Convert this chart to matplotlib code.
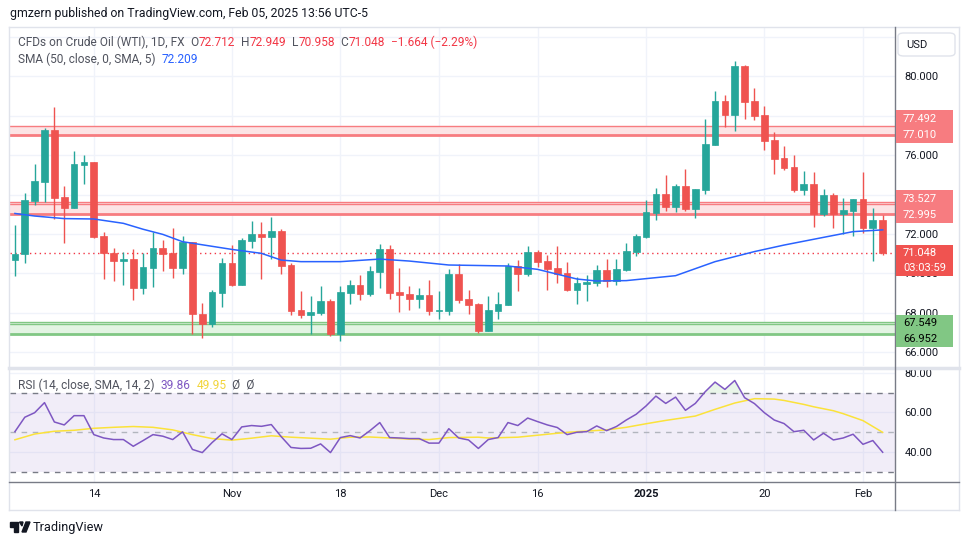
import matplotlib
matplotlib.use("Agg")
import matplotlib.pyplot as plt
from matplotlib.lines import Line2D
from matplotlib.patches import Rectangle, FancyBboxPatch, Polygon
from matplotlib.offsetbox import TextArea, HPacker, AnnotationBbox

plt.rcParams['font.family'] = ['Roboto', 'DejaVu Sans']

# daily candles, Oct 2 2024 .. Feb 5 2025 (bar index 0..88)
opens = [70.70, 70.97, 73.69, 74.65, 77.26, 73.87, 73.33, 75.51, 75.65, 71.90,
         71.02, 70.65, 70.73, 69.28, 70.30, 71.29, 71.02, 70.30, 71.59, 67.97,
         67.46, 69.03, 70.53, 69.42, 71.66, 72.00, 71.86, 72.15, 70.43, 68.15,
         67.91, 68.02, 68.61, 66.95, 69.01, 69.42, 68.98, 70.09, 71.24, 69.06,
         68.96, 68.72, 68.91, 68.12, 68.12, 69.97, 68.71, 68.45, 67.10, 68.12,
         68.42, 70.38, 69.97, 71.09, 70.63, 70.28, 70.02, 69.16, 69.47, 69.52,
         70.18, 69.62, 70.18, 71.09, 71.85, 73.06, 74.03, 73.38, 74.43, 73.27,
         74.23, 76.51, 78.73, 78.03, 80.51, 78.73, 78.03, 76.76, 75.85, 75.39,
         74.23, 74.53, 73.01, 73.97, 73.01, 73.16, 73.77, 72.30, 72.712]
highs = [72.45, 74.06, 75.54, 77.35, 78.45, 74.43, 76.20, 76.00, 75.65, 72.10,
         71.29, 71.09, 71.24, 71.02, 72.08, 71.70, 72.30, 71.90, 71.59, 68.51,
         69.16, 70.78, 71.44, 71.78, 72.66, 72.61, 72.86, 72.25, 70.53, 69.11,
         68.86, 69.37, 68.71, 69.37, 69.67, 69.92, 70.38, 71.49, 71.44, 70.28,
         69.37, 69.26, 69.67, 69.11, 70.23, 70.48, 69.16, 68.51, 68.86, 69.06,
         70.53, 70.68, 71.39, 71.19, 70.94, 71.39, 70.58, 69.82, 69.92, 70.43,
         70.73, 70.73, 71.54, 72.00, 73.72, 74.33, 74.99, 74.53, 75.29, 74.28,
         77.82, 79.24, 79.04, 80.76, 80.56, 79.39, 78.48, 77.16, 76.45, 76.00,
         75.19, 75.14, 74.28, 74.08, 73.82, 73.77, 75.14, 73.32, 72.949]
lows = [69.89, 70.55, 73.48, 73.64, 72.74, 71.56, 73.33, 74.53, 71.81, 69.72,
        69.64, 69.42, 68.66, 68.98, 69.33, 70.13, 69.79, 69.99, 66.95, 66.75,
        67.31, 68.32, 69.37, 69.42, 71.31, 69.72, 70.72, 69.97, 67.90, 67.76,
        66.95, 67.90, 66.85, 66.60, 68.47, 68.67, 68.88, 69.28, 68.72, 68.07,
        68.17, 68.27, 67.90, 67.71, 67.91, 68.52, 67.97, 67.00, 67.10, 67.71,
        68.42, 69.13, 69.87, 70.33, 69.16, 69.52, 69.11, 68.47, 68.61, 69.37,
        69.32, 69.42, 70.13, 70.89, 71.80, 72.71, 73.16, 73.11, 73.16, 72.81,
        74.03, 76.51, 77.42, 77.21, 77.82, 77.77, 76.25, 75.04, 75.24, 74.13,
        73.97, 72.35, 72.91, 72.30, 72.00, 71.90, 72.05, 70.63, 70.958]
closes = [70.99, 73.72, 74.68, 77.26, 73.84, 73.33, 75.54, 75.65, 71.86, 71.02,
          70.65, 70.73, 69.28, 70.33, 71.29, 71.00, 70.30, 71.59, 67.97, 67.46,
          69.06, 70.53, 69.42, 71.70, 72.00, 71.86, 72.15, 70.40, 68.12, 67.90,
          68.05, 68.61, 66.95, 69.06, 69.42, 68.98, 70.13, 71.24, 69.03, 68.91,
          68.72, 68.91, 68.12, 68.17, 69.97, 68.67, 68.42, 67.10, 68.15, 68.45,
          70.38, 69.97, 71.09, 70.58, 70.23, 69.97, 69.16, 69.52, 69.57, 70.18,
          69.62, 70.23, 71.14, 71.90, 73.11, 74.03, 73.38, 74.43, 73.27, 74.28,
          76.56, 78.73, 78.03, 80.51, 78.68, 77.97, 76.71, 75.80, 75.34, 74.23,
          74.53, 73.01, 73.97, 73.01, 73.21, 73.77, 72.30, 72.71, 71.048]

# SMA(50) read at selected bars
sma_idx = [0, 2, 5, 8, 11, 13, 15, 17, 22, 25, 27, 29, 33, 37, 40, 44, 50, 53,
           57, 59, 62, 67, 71, 75, 78, 82, 85, 88]
sma_val = [73.04, 72.91, 72.78, 72.76, 72.54, 72.24, 71.98, 71.61, 71.22, 71.02,
           70.68, 70.60, 70.60, 70.73, 70.63, 70.43, 70.38, 70.21, 69.72, 69.62,
           69.64, 69.89, 70.60, 71.11, 71.44, 71.83, 72.12, 72.209]

# RSI(14) per bar and its SMA(14) at selected bars
rsi = [50.3, 57.6, 59.9, 65.0, 55.2, 53.7, 58.4, 58.4, 48.8, 47.1,
       46.3, 46.3, 42.9, 45.8, 48.8, 48.0, 46.3, 50.2, 41.3, 39.7,
       44.8, 49.2, 46.3, 52.7, 53.4, 53.0, 53.9, 47.8, 42.3, 41.8,
       41.9, 44.1, 39.7, 47.3, 48.3, 47.1, 50.8, 54.9, 47.3, 47.1,
       46.8, 46.8, 44.5, 44.5, 51.8, 47.1, 46.1, 41.8, 46.3, 47.3,
       54.9, 53.4, 57.2, 55.4, 53.7, 52.4, 48.8, 50.0, 50.3, 53.2,
       50.8, 52.9, 56.2, 59.1, 63.3, 68.3, 64.6, 67.8, 61.1, 64.6,
       70.5, 75.4, 71.7, 76.2, 67.5, 64.5, 59.9, 56.2, 54.4, 50.3,
       51.0, 46.1, 49.5, 46.1, 47.1, 49.0, 43.9, 45.8, 39.86]
rsi_ma_idx = [0, 2, 4, 6, 8, 10, 12, 14, 16, 18, 20, 22, 24, 26, 28, 30, 32, 34,
              36, 38, 40, 42, 44, 47, 48, 51, 53, 55, 57, 60, 62, 64, 66, 69, 71,
              73, 75, 77, 78, 80, 81, 83, 84, 86, 88]
rsi_ma_val = [46.2, 49.1, 50.5, 51.0, 52.0, 52.5, 52.9, 52.5, 51.2, 48.8, 46.8,
              46.0, 47.0, 48.2, 47.5, 47.0, 46.5, 47.5, 47.6, 47.1, 46.5, 46.3,
              47.3, 47.5, 47.1, 47.5, 48.5, 49.5, 50.3, 51.2, 52.5, 54.3, 56.0,
              58.2, 61.6, 64.8, 67.0, 66.8, 66.1, 64.1, 62.9, 60.9, 59.4, 55.9,
              49.95]

# horizontal zones drawn on the chart
red_zones = [(77.010, 77.492), (72.995, 73.527)]
green_zone = (66.952, 67.549)
last_price = 71.048

date_idx = [8, 22, 33, 43, 53, 64, 76, 86]
date_lbl = ['14', 'Nov', '18', 'Dec', '16', '2025', '20', 'Feb']

UP = '#26A69A'
DOWN = '#EF5350'
GRID = '#F0F3FA'
TXT = '#131722'

W, H = 970, 545
fig = plt.figure(figsize=(W / 100, H / 100), dpi=100)
fig.patch.set_facecolor('white')


def fx(x):
    return x / W


def fy(y):
    return 1 - y / H


ax = fig.add_axes([fx(10), fy(366), fx(895) - fx(10), fy(27) - fy(366)])
ax2 = fig.add_axes([fx(10), fy(482), fx(895) - fx(10), fy(369) - fy(482)], sharex=ax)

n = len(closes)
xs = list(range(n))
cols = [UP if c >= o else DOWN for o, c in zip(opens, closes)]

# zones
for lo, hi in red_zones:
    ax.axhspan(lo, hi, color='#FCE4E5', zorder=1, lw=0)
    ax.axhline(hi, color='#F77C80', lw=1, zorder=2)
    ax.axhline(lo, color='#F77C80', lw=2, zorder=2)
ax.axhline(73.60, color='#F77C80', lw=1, zorder=2)
ax.axhspan(73.527, 73.60, color='#FCE4E5', zorder=1, lw=0)
ax.axhspan(green_zone[0], green_zone[1], color='#E3F4E3', zorder=1, lw=0)
ax.axhline(green_zone[1], color='#81C784', lw=1, zorder=2)
ax.axhline(67.44, color='#81C784', lw=1, zorder=2)
ax.axhline(green_zone[0], color='#81C784', lw=2, zorder=2)

# candles
ax.vlines(xs, lows, highs, colors=cols, lw=1, zorder=4)
bottoms = [min(o, c) for o, c in zip(opens, closes)]
heights = [abs(c - o) for o, c in zip(opens, closes)]
ax.bar(xs, heights, bottom=bottoms, width=0.68, color=cols, edgecolor=cols,
       linewidth=0.5, zorder=5)

# SMA
ax.plot(sma_idx, sma_val, color='#2962FF', lw=1.1, zorder=6)
ax.axhline(last_price, color='#F23645', lw=1, ls=(0, (1, 2.5)), zorder=3)

ax.set_xlim(-0.5, 89.25)
ax.set_ylim(80 - 290 / 19.75, 80 + 49 / 19.75)
ax.set_yticks([66, 68, 70, 72, 74, 76, 78, 80, 82])
ax.set_yticklabels(['66.000', '68.000', '70.000', '72.000', '', '76.000', '', '80.000', ''])
ax.yaxis.tick_right()
ax.tick_params(axis='y', length=0, pad=7, labelsize=8, labelcolor=TXT)
ax.tick_params(axis='x', length=0, labelbottom=False)
ax.set_xticks(date_idx)
ax.grid(True, color=GRID, lw=1)
ax.set_axisbelow(True)
for s in ax.spines.values():
    s.set_visible(False)

# RSI panel
ax2.axhspan(30, 70, color='#7E57C2', alpha=0.1, lw=0, zorder=1)
ax2.axhline(70, color='#787B86', lw=1, ls=(0, (4, 4)), zorder=2)
ax2.axhline(30, color='#787B86', lw=1, ls=(0, (4, 4)), zorder=2)
ax2.axhline(50, color='#B2B5BE', lw=1, ls=(0, (4, 4)), zorder=2)
ax2.fill_between(xs, 70, rsi, where=[v > 70 for v in rsi], interpolate=True,
                 color='#4CAF50', alpha=0.12, lw=0, zorder=2)
ax2.plot(rsi_ma_idx, rsi_ma_val, color='#FBE23A', lw=1.1, zorder=3)
ax2.plot(xs, rsi, color='#7E57C2', lw=1.1, zorder=4)
ax2.set_ylim(80 - 109 / 1.975, 80 + 4 / 1.975)
ax2.set_yticks([40, 60, 80])
ax2.set_yticklabels(['40.00', '60.00', '80.00'])
ax2.yaxis.tick_right()
ax2.tick_params(axis='y', length=0, pad=7, labelsize=8, labelcolor=TXT)
ax2.set_xticks(date_idx)
ax2.set_xticklabels(date_lbl)
ax2.tick_params(axis='x', length=0, pad=5, labelsize=8, labelcolor=TXT)
for t in ax2.get_xticklabels():
    if t.get_text() == '2025':
        t.set_fontweight('bold')
ax2.grid(True, color=GRID, lw=1)
ax2.set_axisbelow(True)
for s in ax2.spines.values():
    s.set_visible(False)

# frame lines
def hline(y, x0, x1, color, lw=1):
    fig.add_artist(Line2D([fx(x0), fx(x1)], [fy(y), fy(y)], color=color, lw=lw,
                          transform=fig.transFigure))


def vline(x, y0, y1, color, lw=1):
    fig.add_artist(Line2D([fx(x), fx(x)], [fy(y0), fy(y1)], color=color, lw=lw,
                          transform=fig.transFigure))


hline(27, 9, 959, '#E0E3EB')
hline(510, 9, 959, '#E0E3EB')
vline(9, 27, 510, '#E0E3EB')
vline(959, 27, 510, '#E0E3EB')
hline(367.5, 9, 959, '#E0E3EB', 2.5)
hline(482, 9, 959, '#787B86')
vline(895, 27, 510, '#787B86')

# price labels on the scale
def price_box(y0, y1, color, lines, tcolor):
    fig.add_artist(Rectangle((fx(896), fy(y1)), fx(953) - fx(896), fy(y0) - fy(y1),
                             transform=fig.transFigure, facecolor=color,
                             edgecolor='none', zorder=10))
    for ty, s in lines:
        fig.text(fx(903), fy(ty), s, color=tcolor, fontsize=8, va='center',
                 ha='left', zorder=11)


price_box(110, 143, '#F77C80', [(119, '77.492'), (135.5, '77.010')], 'white')
price_box(190, 223, '#F77C80', [(198.5, '73.527'), (214.5, '72.995')], 'white')
price_box(245, 276, '#F05350', [(253, '71.048'), (268, '03:03:59')], 'white')
price_box(315, 347, '#81C784', [(323, '67.549'), (339, '66.952')], 'black')

# USD button
fig.add_artist(FancyBboxPatch((fx(898), fy(56)), fx(955) - fx(898), fy(33) - fy(56),
                              boxstyle='round,pad=0,rounding_size=0.006',
                              transform=fig.transFigure, facecolor='white',
                              edgecolor='#E0E3EB', lw=1))
fig.text(fx(906), fy(44.5), 'USD', fontsize=8, color=TXT, va='center')

# header
fig.text(fx(10), fy(14), 'gmzern published on TradingView.com, Feb 05, 2025 13:56 UTC-5',
         fontsize=8.8, color=TXT, va='center')


def legend(y, parts):
    boxes = [TextArea(s, textprops=dict(color=c, fontsize=8.6)) for s, c in parts]
    pack = HPacker(children=boxes, align='baseline', pad=0, sep=0)
    ab = AnnotationBbox(pack, (fx(18), fy(y)), xycoords='figure fraction',
                        box_alignment=(0, 0.5), frameon=False, pad=0)
    fig.add_artist(ab)


G = '#50535E'
R = '#F23645'
legend(42, [('CFDs on Crude Oil (WTI), 1D, FX  ', G), ('O', G), ('72.712', R),
            ('  H', G), ('72.949', R), ('  L', G), ('70.958', R),
            ('  C', G), ('71.048', R), ('  \u22121.664 (\u22122.29%)', R)])
legend(59, [('SMA (50, close, 0, SMA, 5)  ', G), ('72.209', '#2962FF')])
legend(385, [('RSI (14, close, SMA, 14, 2)  ', G), ('39.86', '#7E57C2'),
             ('  ', G), ('49.95', '#F2D43A'), ('  \u00d8  \u00d8', G)])

# TradingView logo
fig.add_artist(Rectangle((fx(10), fy(527)), fx(18) - fx(10), fy(522) - fy(527),
                         transform=fig.transFigure, color=TXT))
fig.add_artist(Rectangle((fx(14), fy(532)), fx(18) - fx(14), fy(527) - fy(532),
                         transform=fig.transFigure, color=TXT))
fig.add_artist(Polygon([(fx(19.5), fy(522)), (fx(23), fy(522)), (fx(22), fy(526))],
                       transform=fig.transFigure, color=TXT))
fig.add_artist(Polygon([(fx(22), fy(532)), (fx(26), fy(522)), (fx(30), fy(522)),
                        (fx(26), fy(532))], transform=fig.transFigure, color=TXT))
fig.text(fx(33), fy(527), 'TradingView', fontsize=9.2, color=TXT, va='center')

fig.savefig('out.png', dpi=100, facecolor='white')
